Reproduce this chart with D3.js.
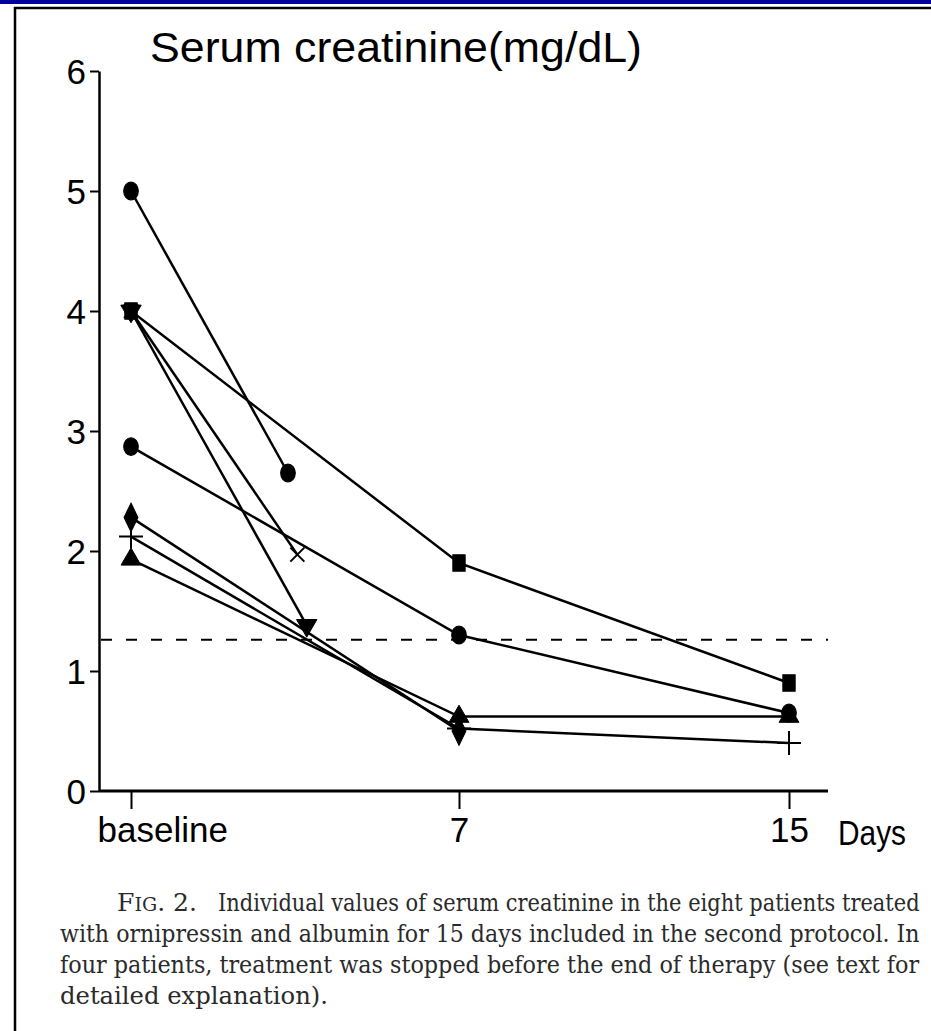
<!DOCTYPE html>
<html>
<head>
<meta charset="utf-8">
<script src="https://cdn.jsdelivr.net/npm/d3@7"></script>
<style>
  body { margin: 0; background: #fff; }
  svg { display: block; }
</style>
</head>
<body>
<div id="graph"></div>
<script>
"use strict";
(function() {
    // tick labels
    const yTicks = [0, 1, 2, 3, 4, 5, 6];
    const xTickDays = [0, 7, 15];
    const xTickLabels = ["baseline", "7", "15"];

    // one entry per patient (8 patients)
    const seriesSymbols = ["circle", "square", "times", "triangleDown",
                           "circle", "diamond", "plus", "triangle"];
    const seriesDays = [
        [0, 3.35],
        [0, 7, 15],
        [0, 3.55],
        [0, 3.75],
        [0, 7, 15],
        [0, 7],
        [0, 7, 15],
        [0, 7, 15]
    ];
    const seriesValues = [
        [5.0, 2.65],
        [4.0, 1.9, 0.9],
        [4.0, 1.97],
        [4.0, 1.38],
        [2.87, 1.3, 0.65],
        [2.28, 0.5],
        [2.12, 0.52, 0.4],
        [1.93, 0.62, 0.62]
    ];
    const normalLimit = 1.26;

    const captionLines = [
        "Individual values of serum creatinine in the eight patients treated",
        "with ornipressin and albumin for 15 days included in the second protocol. In",
        "four patients, treatment was stopped before the end of therapy (see text for",
        "detailed explanation)."
    ];

    const width = 931, height = 1031;
    const svg = d3.select("#graph").append("svg")
        .attr("width", width)
        .attr("height", height);

    // page frame
    svg.append("rect").attr("x", 0).attr("y", 0).attr("width", width).attr("height", 4)
        .attr("fill", "#00009c");
    svg.append("line").attr("x1", 14).attr("x2", width).attr("y1", 8).attr("y2", 8)
        .attr("stroke", "#000").attr("stroke-width", 2.5);
    svg.append("line").attr("x1", 15).attr("x2", 15).attr("y1", 7).attr("y2", height)
        .attr("stroke", "#000").attr("stroke-width", 2.5);

    const yScale = d3.scaleLinear().domain([0, 6]).range([791, 71]);
    const xScale = d3.scaleLinear().domain([0, 7, 15]).range([131, 459, 789]);
    const axisX0 = 99, axisX1 = 828;

    const font = "Liberation Sans, Arial, sans-serif";

    // y axis
    const yAxis = svg.append("g")
        .attr("transform", "translate(" + axisX0 + ",0)")
        .call(d3.axisLeft(yScale).tickValues(yTicks).tickFormat(d3.format("d"))
            .tickSize(9).tickSizeOuter(0).tickPadding(4));
    yAxis.select(".domain").attr("stroke-width", 2.5);
    yAxis.selectAll(".tick line").attr("stroke-width", 2);
    yAxis.selectAll("text").style("font-family", font).style("font-size", "35px")
        .attr("fill", "#000").attr("dy", "0.36em");

    // x axis
    const xAxis = svg.append("g")
        .attr("transform", "translate(0," + yScale(0) + ")")
        .call(d3.axisBottom(xScale).tickValues(xTickDays)
            .tickFormat((d, i) => xTickLabels[i])
            .tickSize(18).tickSizeOuter(0).tickPadding(8));
    xAxis.select(".domain").attr("d", "M" + axisX0 + ",0H" + axisX1).attr("stroke-width", 3);
    xAxis.selectAll(".tick line").attr("stroke-width", 2);
    xAxis.selectAll("text").style("font-family", font).style("font-size", "35px")
        .attr("fill", "#000");
    // "baseline" sits to the right of its tick
    xAxis.selectAll(".tick text").filter((d, i) => i === 0)
        .attr("text-anchor", "start").attr("x", axisX0 - xScale(0) - 2);

    svg.append("text")
        .attr("x", 838).attr("y", 845)
        .style("font-family", font).style("font-size", "35px")
        .attr("textLength", 68).attr("lengthAdjust", "spacingAndGlyphs")
        .text("Days");

    // title
    svg.append("text")
        .attr("x", 150).attr("y", 62)
        .style("font-family", font).style("font-size", "42px")
        .attr("textLength", 492).attr("lengthAdjust", "spacingAndGlyphs")
        .text("Serum creatinine(mg/dL)");

    // normal limit
    svg.append("line")
        .attr("x1", axisX0 + 2).attr("x2", axisX1)
        .attr("y1", yScale(normalLimit)).attr("y2", yScale(normalLimit))
        .attr("stroke", "#000").attr("stroke-width", 2)
        .attr("stroke-dasharray", "11,14");

    const line = d3.line()
        .x(d => xScale(d[0]))
        .y(d => yScale(d[1]));

    const series = seriesDays.map((days, i) =>
        days.map((day, j) => [day, seriesValues[i][j], seriesSymbols[i]]));

    svg.append("g").selectAll("path")
        .data(series)
        .enter()
        .append("path")
            .attr("d", d => line(d))
            .attr("fill", "none")
            .attr("stroke", "#000")
            .attr("stroke-width", 2.5);

    const symbolTypes = {
        circle: d3.symbolCircle,
        square: d3.symbolSquare,
        times: d3.symbolTimes,
        triangle: d3.symbolTriangle,
        triangleDown: d3.symbolTriangle,
        diamond: d3.symbolDiamond,
        plus: d3.symbolPlus
    };
    const symbolSizes = {
        circle: 170, square: 170, times: 130, triangle: 170,
        triangleDown: 180, diamond: 150, plus: 190
    };
    const stroked = { times: true, plus: true };

    // triangles first so circles sit on top where they overlap
    const order = [7, 5, 6, 3, 2, 1, 0, 4];
    const points = [];
    order.forEach(i => series[i].forEach(p => points.push(p)));

    svg.append("g").selectAll("path")
        .data(points)
        .enter()
        .append("path")
            .attr("transform", d => {
                let t = "translate(" + xScale(d[0]) + "," + yScale(d[1]) + ")";
                if (d[2] === "triangleDown") t += " rotate(180)";
                if (d[2] === "circle") t += " scale(1,1.2)";
                if (d[2] === "square") t += " scale(0.95,1.25)";
                if (d[2] === "diamond") t += " scale(1.05,1.25)";
                return t;
            })
            .attr("d", d => d3.symbol().type(symbolTypes[d[2]]).size(symbolSizes[d[2]])())
            .attr("fill", d => stroked[d[2]] ? "none" : "#000")
            .attr("stroke", "#000")
            .attr("stroke-width", d => stroked[d[2]] ? 2 : 1);

    // caption: each line squeezed horizontally to the justified width
    const capFont = "DejaVu Serif, serif";
    const cap = svg.append("g")
        .style("font-family", capFont).style("font-size", "25px")
        .style("font-stretch", "condensed")
        .attr("fill", "#2a2a2a");

    function capLine(x, y, w, build) {
        const g = cap.append("g");
        const t = g.append("text").attr("x", 0).attr("y", 0);
        build(t);
        const natural = t.node().getComputedTextLength();
        const k = w ? w / natural : 0.8;
        g.attr("transform", "translate(" + x + "," + y + ") scale(" + k + ",1)");
    }

    capLine(117, 911, 80, t => {
        t.append("tspan").text("F");
        t.append("tspan").style("font-size", "19px").text("IG");
        t.append("tspan").text(". 2.");
    });
    capLine(218, 911, 702, t => t.text(captionLines[0]));
    capLine(60, 942, 860, t => t.text(captionLines[1]));
    capLine(60, 973, 860, t => t.text(captionLines[2]));
    capLine(60, 1004, 268, t => t.text(captionLines[3]));
})();
</script>
</body>
</html>
